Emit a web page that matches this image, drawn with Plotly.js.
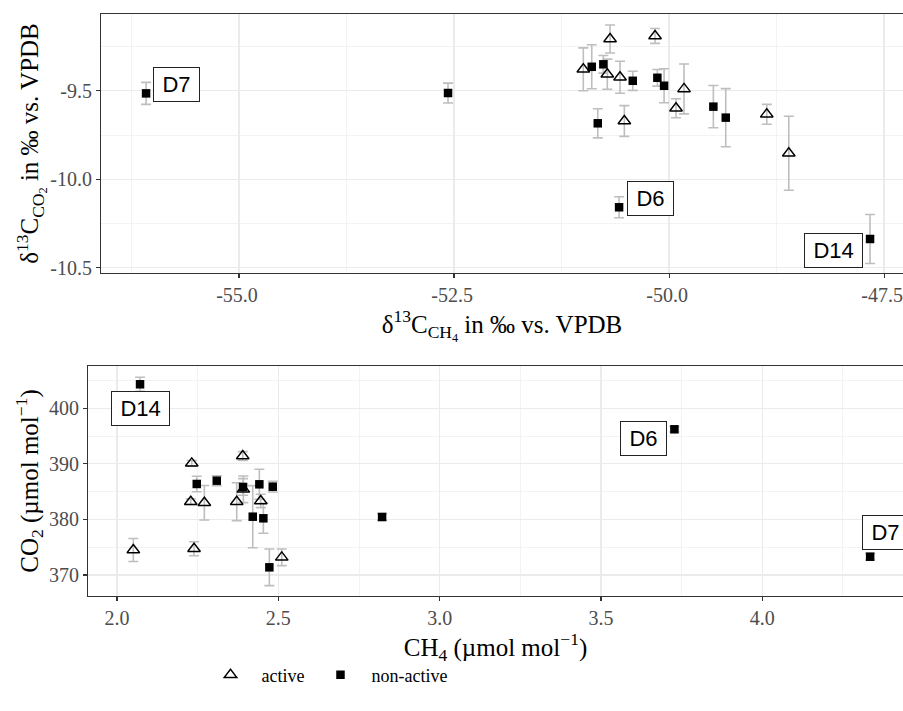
<!DOCTYPE html>
<html>
<head>
<meta charset="utf-8">
<script src="https://cdn.plot.ly/plotly-3.0.1.min.js"></script>
<style>html,body{margin:0;padding:0;background:#fff;}#chart{width:903px;height:711px;}</style>
</head>
<body>
<div id="chart"></div>
<script>
// ---------- DATA ----------
// Top panel: d13C-CH4 (x) vs d13C-CO2 (y), per-mil vs VPDB
const activeTopX   = [-50.686, -50.163, -50.997, -50.718, -50.570, -49.826, -49.919, -50.520, -48.864, -48.608];
const activeTopY   = [-9.208, -9.191, -9.379, -9.407, -9.424, -9.490, -9.599, -9.671, -9.633, -9.853];
const activeTopErr = [0.079, 0.042, 0.121, 0.085, 0.090, 0.141, 0.054, 0.087, 0.056, 0.209];

const nonactiveTopX    = [-50.899, -50.764, -50.422, -50.136, -50.058, -50.829, -49.485, -49.341, -50.581, -47.663, -56.081, -52.570];
const nonactiveTopY    = [-9.365, -9.351, -9.444, -9.427, -9.472, -9.684, -9.590, -9.652, -10.158, -10.337, -9.515, -9.513];
const nonactiveTopErr  = [0.124, 0.050, 0.054, 0.047, 0.096, 0.082, 0.119, 0.164, 0.059, 0.138, 0.062, 0.056];
const nonactiveTopSite = ["", "", "", "", "", "", "", "", "D6", "D14", "D7", ""];

// Bottom panel: CH4 (x) vs CO2 (y), umol/mol
const activeBotX   = [2.2316, 2.3896, 2.2285, 2.2706, 2.3915, 2.3710, 2.4454, 2.2387, 2.5105, 2.0505];
const activeBotY   = [390.10, 391.41, 383.19, 383.01, 385.42, 383.19, 383.32, 374.73, 373.18, 374.50];
const activeBotErr = [0.5, 0.8, 0.5, 3.1, 2.4, 3.4, 1.2, 1.26, 1.5, 2.07];

const nonactiveBotX    = [2.2471, 2.3091, 2.4411, 2.4826, 2.4206, 2.4535, 2.4721, 2.0713, 3.7275, 4.3342, 2.8215, 2.3906];
const nonactiveBotY    = [386.38, 386.97, 386.32, 385.89, 380.49, 380.20, 371.38, 404.32, 396.22, 373.29, 380.44, 385.84];
const nonactiveBotErr  = [1.4, 0.9, 2.7, 0.96, 5.6, 2.7, 3.3, 1.26, 0.5, 0.6, 0.63, 1.5];
const nonactiveBotSite = ["", "", "", "", "", "", "", "D14", "D6", "D7", "", ""];

// Tick labels
const topXTickVals = [-55.0, -52.5, -50.0, -47.5];
const topXTickText = ["-55.0", "-52.5", "-50.0", "-47.5"];
const topXMinor    = [-56.25, -53.75, -51.25, -48.75];
const topYTickVals = [-9.5, -10.0, -10.5];
const topYTickText = ["-9.5", "-10.0", "-10.5"];
const topYMinor    = [-9.25, -9.75, -10.25];
const botXTickVals = [2.0, 2.5, 3.0, 3.5, 4.0];
const botXTickText = ["2.0", "2.5", "3.0", "3.5", "4.0"];
const botXMinor    = [2.25, 2.75, 3.25, 3.75, 4.25];
const botYTickVals = [370, 380, 390, 400];
const botYTickText = ["370", "380", "390", "400"];
const botYMinor    = [375, 385, 395, 405];

const groupNames = ["active", "non-active"];

// ---------- STYLE ----------
const serif = "Liberation Serif, Times New Roman, serif";
const sans = "Liberation Sans, Arial, sans-serif";
const errStyle = {type: "data", visible: true, color: "#BEBEBE", thickness: 1.6, width: 5};
const activeMarker = {symbol: "triangle-up-open", size: 11, color: "#000", line: {width: 1.4, color: "#000"}};
const nonactiveMarker = {symbol: "square", size: 8.5, color: "#000", line: {width: 0}};

// label offsets (pixels) per panel/site
const labelShift = {
  top: {D7: [30, 9], D6: [31, 9], D14: [-37, -12]},
  bot: {D14: [0, -24], D6: [-31, -9], D7: [15, 24]}
};

function errTrace(x, y, e, xa, ya) {
  return {x: x, y: y, type: "scatter", mode: "markers", xaxis: xa, yaxis: ya,
    marker: {size: 1, color: "rgba(0,0,0,0)"}, showlegend: false, hoverinfo: "skip",
    error_y: Object.assign({array: e}, errStyle)};
}
function ptTrace(x, y, name, marker, xa, ya, legend) {
  return {x: x, y: y, type: "scatter", mode: "markers", name: name, xaxis: xa, yaxis: ya,
    marker: marker, showlegend: legend, legendgroup: name};
}

const traces = [
  errTrace(activeTopX, activeTopY, activeTopErr, "x", "y"),
  errTrace(nonactiveTopX, nonactiveTopY, nonactiveTopErr, "x", "y"),
  ptTrace(activeTopX, activeTopY, groupNames[0], activeMarker, "x", "y", true),
  ptTrace(nonactiveTopX, nonactiveTopY, groupNames[1], nonactiveMarker, "x", "y", true),
  errTrace(activeBotX, activeBotY, activeBotErr, "x2", "y2"),
  errTrace(nonactiveBotX, nonactiveBotY, nonactiveBotErr, "x2", "y2"),
  ptTrace(activeBotX, activeBotY, groupNames[0], activeMarker, "x2", "y2", false),
  ptTrace(nonactiveBotX, nonactiveBotY, groupNames[1], nonactiveMarker, "x2", "y2", false)
];

const annotations = [];
function addLabels(xs, ys, sites, xref, yref, shifts) {
  sites.forEach((s, i) => {
    if (!s) return;
    annotations.push({x: xs[i], y: ys[i], xref: xref, yref: yref, text: "\u2009" + s + "\u2009", showarrow: false,
      xshift: shifts[s][0], yshift: shifts[s][1],
      font: {family: sans, size: 22, color: "#000"},
      bgcolor: "#fff", bordercolor: "#222", borderwidth: 1, borderpad: 4});
  });
}
addLabels(nonactiveTopX, nonactiveTopY, nonactiveTopSite, "x", "y", labelShift.top);
addLabels(nonactiveBotX, nonactiveBotY, nonactiveBotSite, "x2", "y2", labelShift.bot);

function axisBase(tv, tt, minorVals) {
  return {
    tickmode: "array", tickvals: tv, ticktext: tt,
    ticks: "outside", ticklen: 4, tickwidth: 1.1, tickcolor: "#333",
    tickfont: {family: serif, size: 20, color: "#4D4D4D"},
    ticklabeloverflow: "allow",
    showgrid: true, gridcolor: "#EBEBEB", gridwidth: 1.2,
    minor: {tickmode: "array", tickvals: minorVals, showgrid: true, gridcolor: "#EBEBEB", gridwidth: 0.6, ticks: ""},
    zeroline: false, showline: true, linecolor: "#333", linewidth: 1.1,
    automargin: false, fixedrange: true
  };
}
const titleFont = {family: serif, size: 25, color: "#000"};

const layout = {
  width: 903, height: 711,
  margin: {l: 0, r: 0, t: 0, b: 0},
  paper_bgcolor: "#fff", plot_bgcolor: "#fff",
  showlegend: true,
  legend: {orientation: "h", x: 326/903, xanchor: "center", y: 1 - 675/711, yanchor: "middle",
    font: {family: serif, size: 18, color: "#000"}, itemwidth: 52, traceorder: "normal"},
  annotations: annotations,
  xaxis: Object.assign(axisBase(topXTickVals, topXTickText, topXMinor), {
    domain: [101/903, 1], range: [-56.605, -47.28], anchor: "y", mirror: true,
    ticklabelshift: -2,
    title: {text: "δ<sup>13</sup>C<sub>CH<sub>4</sub></sub> in ‰ vs. VPDB", font: titleFont, standoff: 5}
  }),
  yaxis: Object.assign(axisBase(topYTickVals, topYTickText, topYMinor), {
    domain: [1 - 273/711, 1 - 14/711], range: [-10.529, -9.067], anchor: "x",
    title: {text: "δ<sup>13</sup>C<sub>CO<sub>2</sub></sub> in ‰ vs. VPDB", font: titleFont, standoff: 3}
  }),
  xaxis2: Object.assign(axisBase(botXTickVals, botXTickText, botXMinor), {
    domain: [88/903, 1], range: [1.910, 4.436], anchor: "y2", mirror: true,
    title: {text: "CH<sub>4</sub> (µmol mol<sup>−1</sup>)", font: titleFont, standoff: 5}
  }),
  yaxis2: Object.assign(axisBase(botYTickVals, botYTickText, botYMinor), {
    domain: [1 - 596/711, 1 - 366/711], range: [366.22, 407.61], anchor: "x2",
    title: {text: "CO<sub>2</sub> (µmol mol<sup>−1</sup>)", font: titleFont, standoff: 3}
  })
};

Plotly.newPlot("chart", traces, layout, {staticPlot: true, displayModeBar: false});
</script>
</body>
</html>
